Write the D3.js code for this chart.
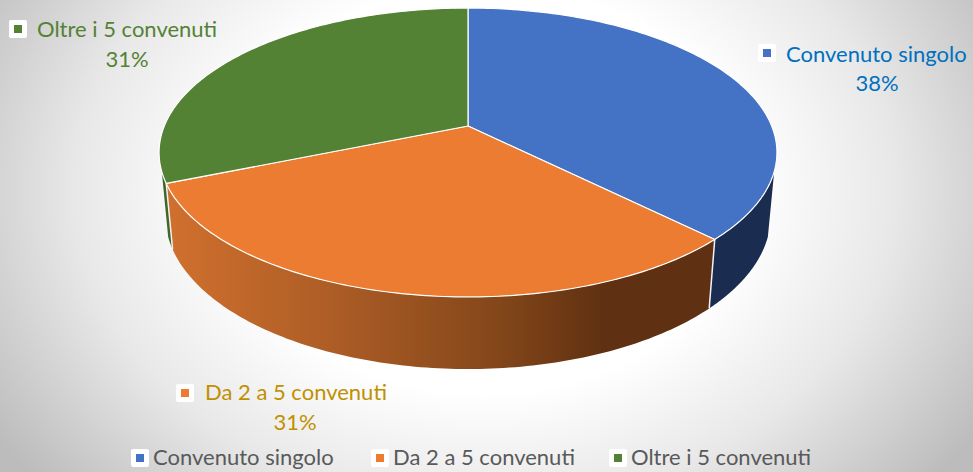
<!DOCTYPE html>
<html>
<head>
<meta charset="utf-8">
<script src="https://cdn.jsdelivr.net/npm/d3@7"></script>
<style>html,body{margin:0;padding:0;background:#fff}svg{display:block}text{font-family:Lato,"Open Sans",sans-serif}</style>
</head>
<body>
<div id="chart"></div>
<script>
const categories = ["Convenuto singolo", "Da 2 a 5 convenuti", "Oltre i 5 convenuti"];
const shares = [37.5, 31.25, 31.25];
const sliceColors = ["#4472c4", "#eb7c31", "#548235"];
const labelColors = ["#0070c0", "#c09000", "#548235"];
const wallColors = ["#1a2c50", "url(#orangeWall)", "#3f6527"];

const W = 973, H = 472;
const svg = d3.select("#chart").append("svg").attr("width", W).attr("height", H);
const defs = svg.append("defs");

const bg = defs.append("radialGradient").attr("id", "bg").attr("gradientUnits", "userSpaceOnUse")
  .attr("cx", 0).attr("cy", 0).attr("r", 1)
  .attr("gradientTransform", "translate(485,190) scale(585,450)");
[[0.45, "#ffffff"], [0.7, "#e8e8e8"], [1, "#bcbcbc"]].forEach(([o, c]) => bg.append("stop").attr("offset", o).attr("stop-color", c));
svg.append("rect").attr("width", W).attr("height", H).attr("fill", "url(#bg)");

const wg = defs.append("linearGradient").attr("id", "orangeWall").attr("gradientUnits", "userSpaceOnUse")
  .attr("x1", 166).attr("x2", 716).attr("y1", 0).attr("y2", 0);
[[0, "#d0702e"], [0.3, "#ad5d26"], [0.6, "#84471a"], [0.8, "#5f3011"], [1, "#5f3011"]].forEach(([o, c]) => wg.append("stop").attr("offset", o).attr("stop-color", c));

// perspective projection of the pie disk: depth 0 = top face, 1 = bottom face
const cx = 468, cy = 126, a = 303.7, b = 139.6, p = 0.1834, q = 0.02, c = 63.7;
function project(angle, r, depth) {
  const x = r * Math.sin(angle), y = -r * Math.cos(angle);
  const w = 1 - p * y + q * depth;
  return [cx + a * x / w, cy + (b * y + c * depth) / w];
}
const line = d3.line();
const arcs = d3.pie().sort(null).value(d => d)(shares);
const steps = (s, e) => d3.range(0, 121).map(i => s + (e - s) * i / 120);

const walls = svg.append("g"), tops = svg.append("g");

// side walls: only the part of each slice rim facing the viewer
arcs.forEach((d, i) => {
  const visS = Math.max(d.startAngle, Math.PI * 0.6), visE = Math.min(d.endAngle, Math.PI * 1.4);
  if (visE <= visS) return;
  const rim = steps(visS, visE);
  const pts = rim.map(t => project(t, 1, 0)).concat(rim.slice().reverse().map(t => project(t, 1, 1)));
  walls.append("path").attr("d", line(pts) + "Z").attr("fill", wallColors[i]).attr("stroke", "none");
});
arcs.forEach(d => {
  const t = d.endAngle;
  if (t > Math.PI * 0.6 && t < Math.PI * 1.4) {
    walls.append("path").attr("d", line([project(t, 1, 0), project(t, 1, 1)]))
      .attr("stroke", "#f2f2f2").attr("stroke-width", 1.5).attr("fill", "none");
  }
});

arcs.forEach((d, i) => {
  const pts = [project(0, 0, 0)].concat(steps(d.startAngle, d.endAngle).map(t => project(t, 1, 0)));
  tops.append("path").attr("d", line(pts) + "Z").attr("fill", sliceColors[i])
    .attr("stroke", "#fff").attr("stroke-width", 1.2).attr("stroke-linejoin", "round");
});

function key(g, x, y, size, inner, color) {
  g.append("rect").attr("x", x).attr("y", y).attr("width", size).attr("height", size).attr("rx", 2).attr("fill", "#fff");
  g.append("rect").attr("x", x + (size - inner) / 2).attr("y", y + (size - inner) / 2).attr("width", inner).attr("height", inner).attr("fill", color);
}

// data labels
const labelPos = [
  { kx: 758, ky: 44, tx: 786, ty: 62, cx: 877, cy: 91 },
  { kx: 176, ky: 384, tx: 205, ty: 400, cx: 295, cy: 430 },
  { kx: 9, ky: 20, tx: 37, ty: 37, cx: 127, cy: 67 }
];
const labels = svg.append("g");
categories.forEach((name, i) => {
  const l = labelPos[i];
  key(labels, l.kx, l.ky, 18, 8, sliceColors[i]);
  labels.append("text").attr("x", l.tx).attr("y", l.ty).attr("font-size", 22).attr("fill", labelColors[i]).text(name);
  labels.append("text").attr("x", l.cx).attr("y", l.cy).attr("font-size", 22).attr("text-anchor", "middle").attr("fill", labelColors[i])
    .text(Math.round(shares[i]) + "%");
});

// legend
const legendX = [131, 371, 609];
const legend = svg.append("g");
categories.forEach((name, i) => {
  key(legend, legendX[i], 449, 18, 8, sliceColors[i]);
  legend.append("text").attr("x", legendX[i] + 22).attr("y", 465).attr("font-size", 22).attr("fill", "#595959").text(name);
});
</script>
</body>
</html>
